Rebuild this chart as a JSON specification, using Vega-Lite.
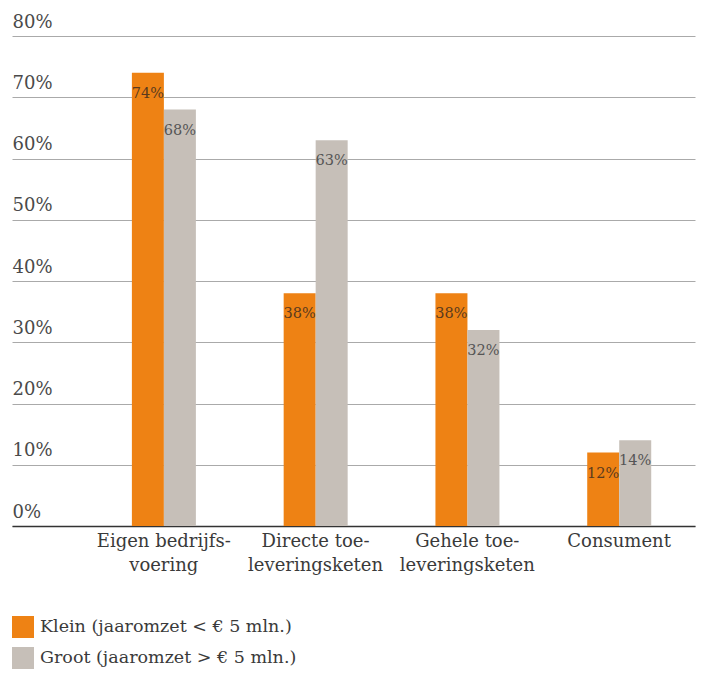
{
  "$schema": "https://vega.github.io/schema/vega-lite/v6.json",
  "width": 683,
  "height": 490,
  "autosize": {"type": "none"},
  "padding": {"left": 12, "top": 36, "right": 6, "bottom": 149},
  "background": "white",
  "config": {
    "view": {"stroke": null},
    "font": "DejaVu Serif",
    "text": {"font": "DejaVu Serif"}
  },
  "data": {
    "values": [
      {"categorie": "Eigen bedrijfs-voering", "groep": "Klein (jaaromzet < € 5 mln.)", "waarde": 0.74},
      {"categorie": "Eigen bedrijfs-voering", "groep": "Groot (jaaromzet > € 5 mln.)", "waarde": 0.68},
      {"categorie": "Directe toe-leveringsketen", "groep": "Klein (jaaromzet < € 5 mln.)", "waarde": 0.38},
      {"categorie": "Directe toe-leveringsketen", "groep": "Groot (jaaromzet > € 5 mln.)", "waarde": 0.63},
      {"categorie": "Gehele toe-leveringsketen", "groep": "Klein (jaaromzet < € 5 mln.)", "waarde": 0.38},
      {"categorie": "Gehele toe-leveringsketen", "groep": "Groot (jaaromzet > € 5 mln.)", "waarde": 0.32},
      {"categorie": "Consument", "groep": "Klein (jaaromzet < € 5 mln.)", "waarde": 0.12},
      {"categorie": "Consument", "groep": "Groot (jaaromzet > € 5 mln.)", "waarde": 0.14}
    ]
  },
  "encoding": {
    "x": {
      "field": "categorie",
      "type": "nominal",
      "sort": null,
      "scale": {"paddingInner": 0, "paddingOuter": 0.25, "align": 1},
      "axis": {
        "title": null,
        "labelAngle": 0,
        "labelExpr": "split(replace(datum.label, '-', '-|'), '|')",
        "labelFontSize": 18,
        "labelColor": "#3a3a3a",
        "labelLineHeight": 24,
        "labelPadding": 6,
        "ticks": false,
        "domainColor": "#333333",
        "domainWidth": 1.5,
        "grid": false
      }
    },
    "xOffset": {
      "field": "groep",
      "type": "nominal",
      "sort": ["Klein (jaaromzet < € 5 mln.)", "Groot (jaaromzet > € 5 mln.)"],
      "scale": {"range": [44, 108], "paddingInner": 0, "paddingOuter": 0}
    },
    "y": {
      "field": "waarde",
      "type": "quantitative",
      "scale": {"domain": [0, 0.8], "nice": false},
      "axis": {
        "title": null,
        "values": [0, 0.1, 0.2, 0.3, 0.4, 0.5, 0.6, 0.7, 0.8],
        "format": ".0%",
        "domain": false,
        "ticks": false,
        "labelAlign": "left",
        "labelBaseline": "alphabetic",
        "labelPadding": 0,
        "labelOffset": -9,
        "labelFontSize": 18,
        "labelColor": "#4a4a4a",
        "gridColor": "#aaaaaa",
        "gridWidth": 1
      }
    }
  },
  "layer": [
    {
      "mark": {"type": "bar"},
      "encoding": {
        "color": {
          "field": "groep",
          "type": "nominal",
          "sort": ["Klein (jaaromzet < € 5 mln.)", "Groot (jaaromzet > € 5 mln.)"],
          "scale": {"range": ["#EE8214", "#C6BFB8"]},
          "legend": {
            "title": null,
            "orient": "none",
            "legendX": 0,
            "legendY": 580,
            "symbolType": "square",
            "symbolSize": 484,
            "symbolStrokeWidth": 0,
            "symbolOpacity": 1,
            "labelFontSize": 17.5,
            "labelColor": "#3a3a3a",
            "labelOffset": 6,
            "labelLimit": 0,
            "rowPadding": 9,
            "padding": 0
          }
        }
      }
    },
    {
      "mark": {"type": "text", "baseline": "middle", "align": "center", "dy": 21, "fontSize": 14.5},
      "encoding": {
        "text": {"field": "waarde", "type": "quantitative", "format": ".0%"},
        "color": {
          "field": "groep",
          "type": "nominal",
          "sort": ["Klein (jaaromzet < € 5 mln.)", "Groot (jaaromzet > € 5 mln.)"],
          "scale": {"range": ["#5a3a1e", "#555555"]},
          "legend": null
        }
      }
    }
  ],
  "resolve": {"scale": {"color": "independent"}}
}
